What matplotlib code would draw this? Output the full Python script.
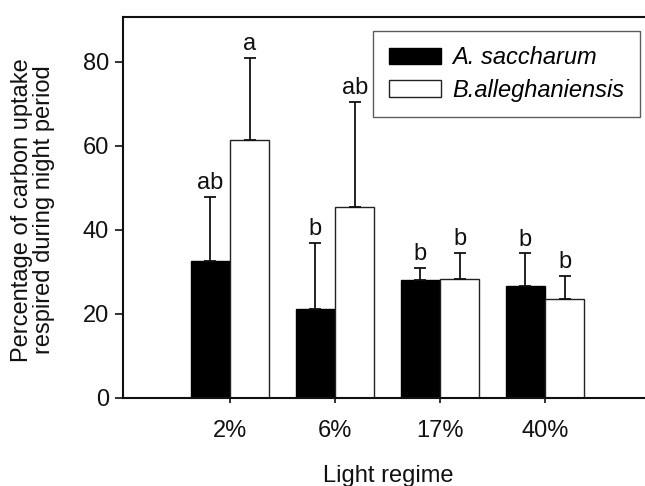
import matplotlib
matplotlib.use("Agg")
import matplotlib.pyplot as plt
import numpy as np

categories = ["2%", "6%", "17%", "40%"]
acer_mean = [32.5, 21.0, 28.0, 26.5]
acer_err = [15.2, 15.9, 2.9, 7.8]
betula_mean = [61.3, 45.3, 28.1, 23.5]
betula_err = [19.6, 25.1, 6.4, 5.4]
acer_letters = ["ab", "b", "b", "b"]
betula_letters = ["a", "ab", "b", "b"]
series_names = ["A. saccharum", "B.alleghaniensis"]

plt.rcParams['font.family'] = ['Liberation Sans', 'DejaVu Sans']
FS = 17

fig = plt.figure(figsize=(6.45, 4.86), dpi=100)
ax = fig.add_axes([123/645, 1 - 397.5/486, 1 - 123/645, (397.5 - 17)/486])

x = np.arange(len(categories))
w = 0.375
ax.bar(x - w/2, acer_mean, w, color='black', edgecolor='black', linewidth=1.0,
       label=series_names[0])
ax.bar(x + w/2, betula_mean, w, color='white', edgecolor='#222222', linewidth=1.0,
       label=series_names[1])

ax.errorbar(x - w/2, acer_mean, yerr=[np.zeros(4), acer_err], fmt='none',
            ecolor='#111111', elinewidth=1.3, capsize=4, capthick=1.3)
ax.errorbar(x + w/2, betula_mean, yerr=[np.zeros(4), betula_err], fmt='none',
            ecolor='#111111', elinewidth=1.3, capsize=4, capthick=1.3)

for xi, m, e, t in zip(x - w/2, acer_mean, acer_err, acer_letters):
    ax.annotate(t, (xi, m + e), xytext=(0, 10), textcoords='offset points',
                ha='center', va='center', fontsize=FS, color='#111111')
for xi, m, e, t in zip(x + w/2, betula_mean, betula_err, betula_letters):
    ax.annotate(t, (xi, m + e), xytext=(0, 10), textcoords='offset points',
                ha='center', va='center', fontsize=FS, color='#111111')

ax.set_xlim(-1.019, 3.952)
ax.set_ylim(0, 90.6)
ax.set_yticks([0, 20, 40, 60, 80])
ax.set_xticks(x)
ax.set_xticklabels(categories)
ax.tick_params(axis='y', direction='out', length=6, width=1.2, labelsize=FS, pad=4,
               colors='#111111')
ax.tick_params(axis='x', direction='out', length=3.5, width=1.2, labelsize=FS, pad=13,
               colors='#111111')

for s in ['left', 'bottom', 'top']:
    ax.spines[s].set_linewidth(1.5)
    ax.spines[s].set_color('#111111')
ax.spines['right'].set_visible(False)

ax.set_xlabel("Light regime", fontsize=FS, color='#111111')
ax.xaxis.set_label_coords((388 - 123) / (645 - 123), -(465 - 397.5) / (397.5 - 17))
fig.text(33/645, 1 - 210/486, "Percentage of carbon uptake\nrespired during night period",
         rotation=90, ha='center', va='center', fontsize=FS, color='#111111',
         multialignment='center', linespacing=0.95)

leg = ax.legend(loc='upper right', bbox_to_anchor=(640/645, 1 - 31/486),
                bbox_transform=fig.transFigure, fontsize=FS, frameon=True,
                fancybox=False, edgecolor='#333333', handlelength=2.2,
                handleheight=0.7, labelspacing=0.4, borderpad=0.65,
                handletextpad=0.5, borderaxespad=0)
leg.get_frame().set_linewidth(1.0)
for t in leg.get_texts():
    t.set_fontstyle('italic')

fig.savefig("out.png", dpi=100)
